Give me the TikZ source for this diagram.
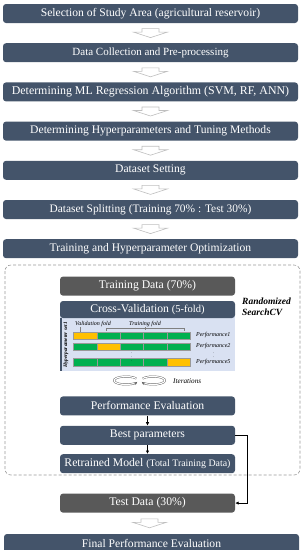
\documentclass[tikz,border=0pt]{standalone}
\usepackage{fontspec}
\setmainfont{Liberation Serif}
\usetikzlibrary{arrows.meta,positioning,calc}
\definecolor{stageblue}{HTML}{44546A}
\definecolor{datagray}{HTML}{595959}
\definecolor{panelblue}{HTML}{D9E1F2}
\definecolor{foldgreen}{HTML}{00B050}
\definecolor{foldorange}{HTML}{FFC000}
\definecolor{arrowgray}{HTML}{BFBFBF}
\tikzset{
	stage/.style={fill=stageblue, text=white, rounded corners=3pt, minimum height=19pt, minimum width=295pt, inner sep=0pt, font=\fontsize{11.6}{13}\selectfont},
	inner/.style={fill=stageblue, text=white, rounded corners=3pt, minimum height=19pt, minimum width=175pt, inner sep=0pt, font=\fontsize{11.7}{13}\selectfont},
	datab/.style={inner, fill=datagray},
	panel/.style={fill=panelblue, minimum width=175pt, inner sep=0pt},
	fold/.style={draw=black!40, line width=0.25pt, fill=foldgreen, minimum width=23.4pt, minimum height=7.5pt, inner sep=0pt},
	tiny/.style={font=\fontsize{6}{7}\selectfont\itshape, inner sep=0.5pt},
	brace/.style={draw=gray, line width=0.4pt},
	frame/.style={draw=gray!80, densely dashed, rounded corners=6pt, line width=0.6pt},
	flow/.style={-{Latex[length=3.5pt,width=3.5pt]}, line width=0.9pt},
	hollow/.style={draw=arrowgray, fill=white, line width=0.6pt, line join=miter},
	loop/.style={draw=gray!70!black, line width=0.4pt, double=white, double distance=1.2pt, -{Stealth[length=3.5pt]}}
}
\newcommand{\hollowdown}[2]{%
	\draw[hollow] ($(#1.south)!0.5!(#2.north)$) ++(-8.5pt,4.5pt) -- ++(17pt,0) -- ++(0,-3.5pt) -- ++(8.5pt,0) -- ++(-17pt,-5.5pt) -- ++(-17pt,5.5pt) -- ++(8.5pt,0) -- cycle;}

\begin{document}
\begin{tikzpicture}[x=1pt, y=1pt, node distance=19.8pt]
	\useasboundingbox (0,0) rectangle (303,-550);
	\node[stage] (area) at (150.5,-13.5) {Selection of Study Area (agricultural reservoir)};
	\node[stage, below=of area, font=\fontsize{11}{13}\selectfont] (collect) {Data Collection and Pre-processing};
	\node[stage, below=of collect, font=\fontsize{11.9}{13}\selectfont] (algo) {Determining ML Regression Algorithm (SVM, RF, ANN)};
	\node[stage, below=of algo] (hyper) {Determining Hyperparameters and Tuning Methods};
	\node[stage, below=of hyper] (setting) {Dataset Setting};
	\node[stage, below=of setting, font=\fontsize{11.4}{13}\selectfont] (split) {Dataset Splitting (Training 70\% : Test 30\%)};
	\node[stage, below=of split] (optim) {Training and Hyperparameter Optimization};
	% tuning block
	\draw[frame] (5,-265) rectangle (300,-475);
	\node[datab, below=18pt of optim, xshift=-3pt] (train) {Training Data (70\%)};
	\node[panel, minimum height=62pt, below=13pt of train] (panel) {};
	\node[inner, minimum height=17pt, below=5pt of train] (cvhead) {Cross-Validation {\fontsize{10.5}{12}\selectfont(5-fold)}};
	\draw[line width=2pt, stageblue] ([xshift=1pt]cvhead.south west) -- ([xshift=1pt]panel.south west);
	\node[rotate=90, inner sep=0pt, font=\fontsize{5.3}{6}\selectfont\bfseries\itshape] (hset) at (66,-345) {Hyperparameter set1};
	\foreach \r/\y/\o in {1/-335.5/1, 2/-346.5/2, 3/-362/5} {
		\foreach \c in {1,...,5}
			\node[fold] (f\r-\c) at ({73.3+23.4*(\c-0.5)},\y) {};
		\node[fold, fill=foldorange] (v\r) at (f\r-\o) {};
		\node[tiny, right=5pt of f\r-5] (perf\r) {Performance\o};
	}
	\node[tiny] (vlab) at (93,-324) {Validation fold};
	\node[tiny] (tlab) at (145,-324) {Training fold};
	\draw[brace] ([xshift=-5pt]f1-1.north) -- ++(0,4.5);
	\draw[brace] ([shift={(10pt,1pt)}]f1-2.north west) -- ++(0,2) -| ([shift={(-6pt,1pt)}]f1-5.north east);
	\draw[brace] (tlab.south) -- ++(0,-2.5);
	\node[inner sep=0pt, font=\fontsize{4}{4}\selectfont] (gap) at ($(f2-3.south)!0.5!(f3-3.north)$) {$\vdots$};
	\node[inner sep=0pt, font=\fontsize{4}{4}\selectfont] (gapp) at ($(perf2.south)!0.5!(perf3.north)$) {$\vdots$};
	% iterations
	\coordinate (itl) at (126,-380.5);
	\coordinate (itr) at (153,-380.5);
	\draw[loop] (itl) ++(30:12pt and 4pt) arc[start angle=30, end angle=340, x radius=12pt, y radius=4pt];
	\draw[loop] (itr) ++(150:12pt and 4pt) arc[start angle=150, end angle=-160, x radius=12pt, y radius=4pt];
	\node[anchor=west, inner sep=0pt, font=\fontsize{7.2}{8}\selectfont\itshape] (iter) at (173,-381) {Iterations};
	\node[inner, below=25pt of panel] (perf) {Performance Evaluation};
	\node[inner, below=10pt of perf] (best) {Best parameters};
	\node[inner, below=9pt of best] (retrain) {Retrained Model {\fontsize{9.9}{11}\selectfont(Total Training Data)}};
	\node[datab, below=20pt of retrain] (test) {Test Data (30\%)};
	\node[stage, below=21pt of test, xshift=4pt] (final) {Final Performance Evaluation};
	\node[anchor=west, align=left, inner sep=0pt, font=\fontsize{9.5}{11.5}\selectfont\bfseries\itshape] (rscv) at (242,-307) {Randomized\\SearchCV};
	% connectors
	\hollowdown{area}{collect}
	\hollowdown{collect}{algo}
	\hollowdown{algo}{hyper}
	\hollowdown{hyper}{setting}
	\hollowdown{setting}{split}
	\hollowdown{split}{optim}
	\hollowdown{test}{final}
	\draw[flow] (perf) -- (best);
	\draw[flow] (best) -- (retrain);
	\draw[flow] (best.east) -- ++(12pt,0) |- (test.east);
\end{tikzpicture}
\end{document}
